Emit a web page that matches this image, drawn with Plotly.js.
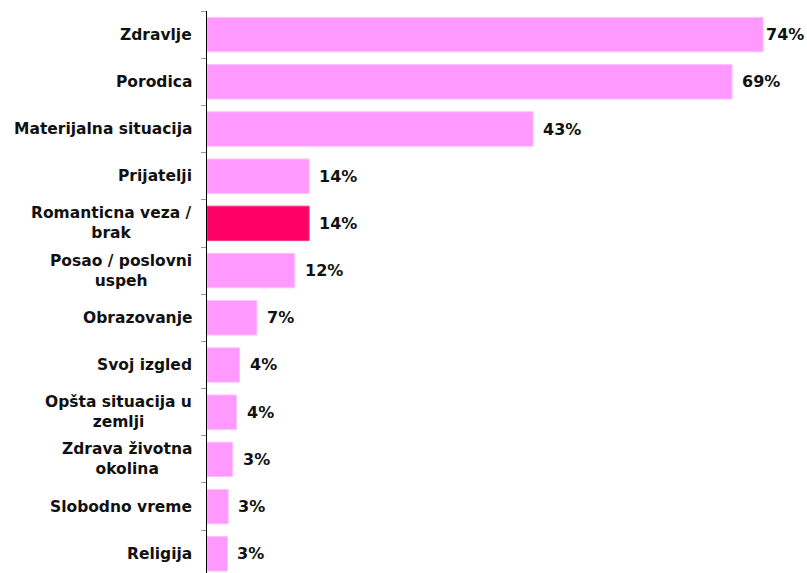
<!DOCTYPE html>
<html>
<head>
<meta charset="utf-8">
<script src="https://cdn.plot.ly/plotly-3.0.1.min.js"></script>
<style>html,body{margin:0;padding:0;background:#fff}#chart{width:807px;height:573px}</style>
</head>
<body>
<div id="chart"></div>
<script>
const categories = [
  "Zdravlje", "Porodica", "Materijalna situacija", "Prijatelji",
  "Romanticna veza /<br>brak", "Posao / poslovni<br>uspeh", "Obrazovanje",
  "Svoj izgled", "Opšta situacija u<br>zemlji", "Zdrava životna<br>okolina",
  "Slobodno vreme", "Religija"
];
const values = [73.5, 69.4, 43.1, 13.5, 13.5, 11.6, 6.6, 4.3, 3.9, 3.4, 2.8, 2.7];
const highlight = "Romanticna veza /<br>brak";

const FONT = "DejaVu Sans, Verdana, sans-serif";
const colors = categories.map(c => c === highlight ? "#FF0066" : "#FF99FF");
const lineColors = categories.map(c => c === highlight ? "#FF3385" : "#FFC2FF");

const trace = {
  type: "bar",
  orientation: "h",
  y: categories,
  x: values,
  marker: { color: colors, line: { color: lineColors, width: 1 } },
  hoverinfo: "none"
};

const annotations = [];
categories.forEach((c, i) => {
  annotations.push({
    xref: "paper", yref: "y", x: 0, y: c, xanchor: "right", yanchor: "middle",
    xshift: -13, text: "<b>" + c + "</b>", showarrow: false, align: "center",
    font: { family: FONT, size: 15.5, color: "#111" }
  });
  annotations.push({
    xref: "x", yref: "y", x: values[i], y: c, xanchor: "left", yanchor: "middle",
    xshift: i === 0 ? 1 : 8, text: "<b>" + Math.round(values[i]) + "%</b>", showarrow: false,
    font: { family: FONT, size: 16, color: "#111" }
  });
});

const layout = {
  width: 807, height: 573,
  margin: { l: 207, r: 0, t: 11, b: 0, pad: 0 },
  paper_bgcolor: "#fff", plot_bgcolor: "#fff",
  showlegend: false,
  bargap: 0.27,
  xaxis: { visible: false, range: [0, 79.3], fixedrange: true },
  yaxis: {
    type: "category",
    range: [11.407, -0.5],
    showticklabels: false,
    ticks: "outside", tickson: "boundaries", ticklen: 5, tickcolor: "#999", tickwidth: 1,
    showline: true, linecolor: "#000", linewidth: 1.5,
    showgrid: false, zeroline: false, fixedrange: true
  },
  annotations: annotations,
  font: { family: FONT }
};

Plotly.newPlot("chart", [trace], layout, { displayModeBar: false, staticPlot: true });
</script>
</body>
</html>
